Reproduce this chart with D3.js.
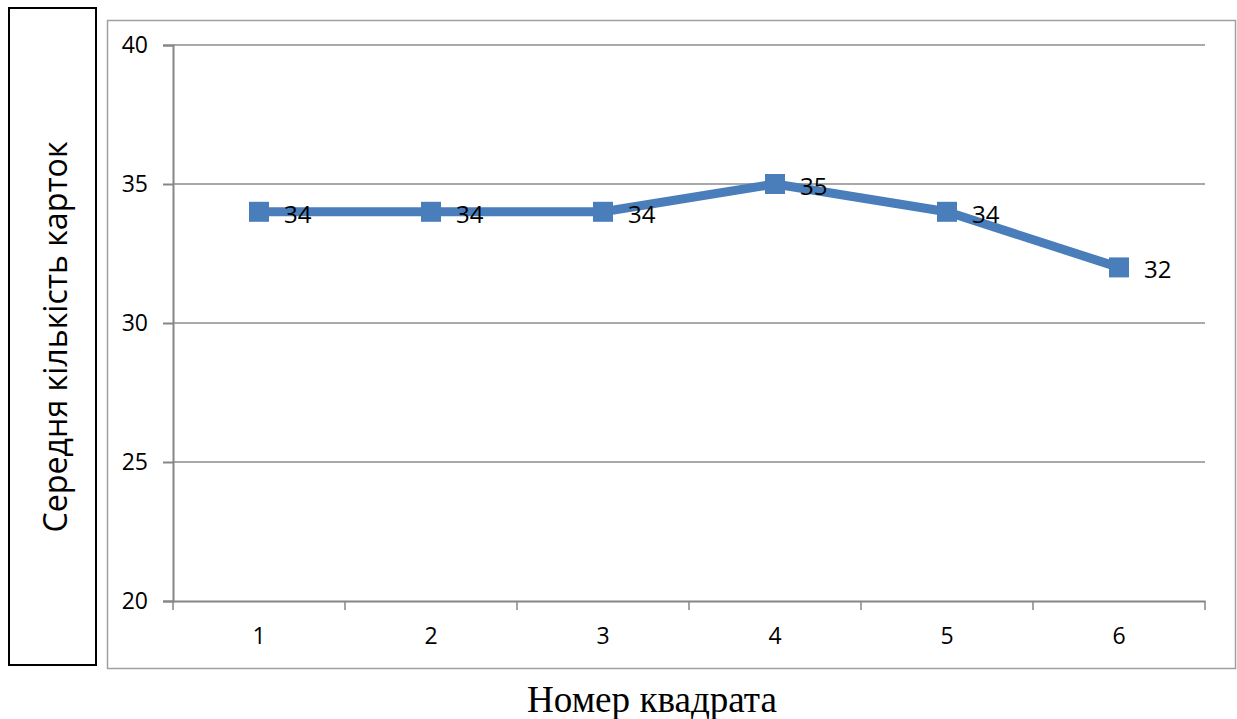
<!DOCTYPE html>
<html>
<head>
<meta charset="utf-8">
<script src="https://cdn.jsdelivr.net/npm/d3@7/dist/d3.min.js"></script>
<style>
  html, body { margin: 0; padding: 0; background: #fff; }
  svg { display: block; }
</style>
</head>
<body>
<svg id="chart" width="1237" height="719"></svg>
<script>
const categories = ["1", "2", "3", "4", "5", "6"];
const values = [34, 34, 34, 35, 34, 32];
const yTicks = [20, 25, 30, 35, 40];
const yTitle = "Середня кількість карток";
const xTitle = "Номер квадрата";

const svg = d3.select("#chart");
const plot = { left: 173, right: 1205, top: 45, bottom: 601 };
const FONT = "'Open Sans', sans-serif";

// outer boxes
svg.append("rect").attr("x", 9).attr("y", 8).attr("width", 87).attr("height", 657)
  .attr("fill", "none").attr("stroke", "#000").attr("stroke-width", 2);
svg.append("rect").attr("x", 107.5).attr("y", 20.5).attr("width", 1128).attr("height", 648)
  .attr("fill", "none").attr("stroke", "#a0a0a0").attr("stroke-width", 1.5);

const x = d3.scaleBand().domain(categories).range([plot.left, plot.right]);
const y = d3.scaleLinear().domain([20, 40]).range([plot.bottom, plot.top]);

// gridlines
svg.append("g").selectAll("line").data(yTicks.filter(d => d !== 20)).join("line")
  .attr("x1", plot.left).attr("x2", plot.right)
  .attr("y1", d => y(d)).attr("y2", d => y(d))
  .attr("stroke", "#8c8c8c").attr("stroke-width", 1.3);

// y axis
const yAxis = svg.append("g").attr("transform", `translate(${plot.left},0)`)
  .call(d3.axisLeft(y).tickValues(yTicks).tickSize(10).tickPadding(15));
yAxis.select(".domain").attr("stroke", "#868686").attr("stroke-width", 2);
yAxis.selectAll(".tick line").attr("stroke", "#868686").attr("stroke-width", 2);
yAxis.selectAll(".tick text").attr("font-family", FONT)
  .attr("font-size", 23).attr("fill", "#000");

// x axis
const xAxis = svg.append("g").attr("transform", `translate(0,${plot.bottom})`)
  .call(d3.axisBottom(x).tickSize(0).tickPadding(27));
xAxis.select(".domain").attr("stroke", "#868686").attr("stroke-width", 2);
xAxis.selectAll(".tick text").attr("font-family", FONT)
  .attr("font-size", 23).attr("fill", "#000");
// x ticks at band boundaries
const bounds = categories.map(c => x(c)).concat([x(categories[categories.length - 1]) + x.bandwidth()]);
svg.append("g").selectAll("line").data(bounds).join("line")
  .attr("x1", d => d).attr("x2", d => d)
  .attr("y1", plot.bottom).attr("y2", plot.bottom + 9)
  .attr("stroke", "#868686").attr("stroke-width", 1.5);

const cx = c => x(c) + x.bandwidth() / 2;
const data = categories.map((c, i) => ({ c, v: values[i] }));

// line
svg.append("path").datum(data)
  .attr("d", d3.line().x(d => cx(d.c)).y(d => y(d.v)))
  .attr("fill", "none").attr("stroke", "#4a7ebb").attr("stroke-width", 9)
  .attr("stroke-linejoin", "round");

// markers
svg.append("g").selectAll("rect").data(data).join("rect")
  .attr("x", d => cx(d.c) - 10).attr("y", d => y(d.v) - 10)
  .attr("width", 20).attr("height", 20).attr("fill", "#4a7ebb");

// labels
svg.append("g").selectAll("text").data(data).join("text")
  .attr("x", d => cx(d.c) + 25).attr("y", d => y(d.v) + 11)
  .attr("font-family", FONT).attr("font-size", 24).attr("fill", "#000")
  .text(d => d.v);

// y title
svg.append("text")
  .attr("transform", "translate(67,337) rotate(-90)")
  .attr("text-anchor", "middle")
  .attr("font-family", FONT).attr("font-size", 32).attr("fill", "#000")
  .attr("textLength", 391).attr("lengthAdjust", "spacingAndGlyphs")
  .text(yTitle);

// x title
svg.append("text")
  .attr("x", 652).attr("y", 712)
  .attr("text-anchor", "middle")
  .attr("font-family", "'Liberation Serif', 'Times New Roman', serif").attr("font-size", 38).attr("fill", "#000")
  .attr("textLength", 250).attr("lengthAdjust", "spacingAndGlyphs")
  .text(xTitle);
</script>
</body>
</html>
